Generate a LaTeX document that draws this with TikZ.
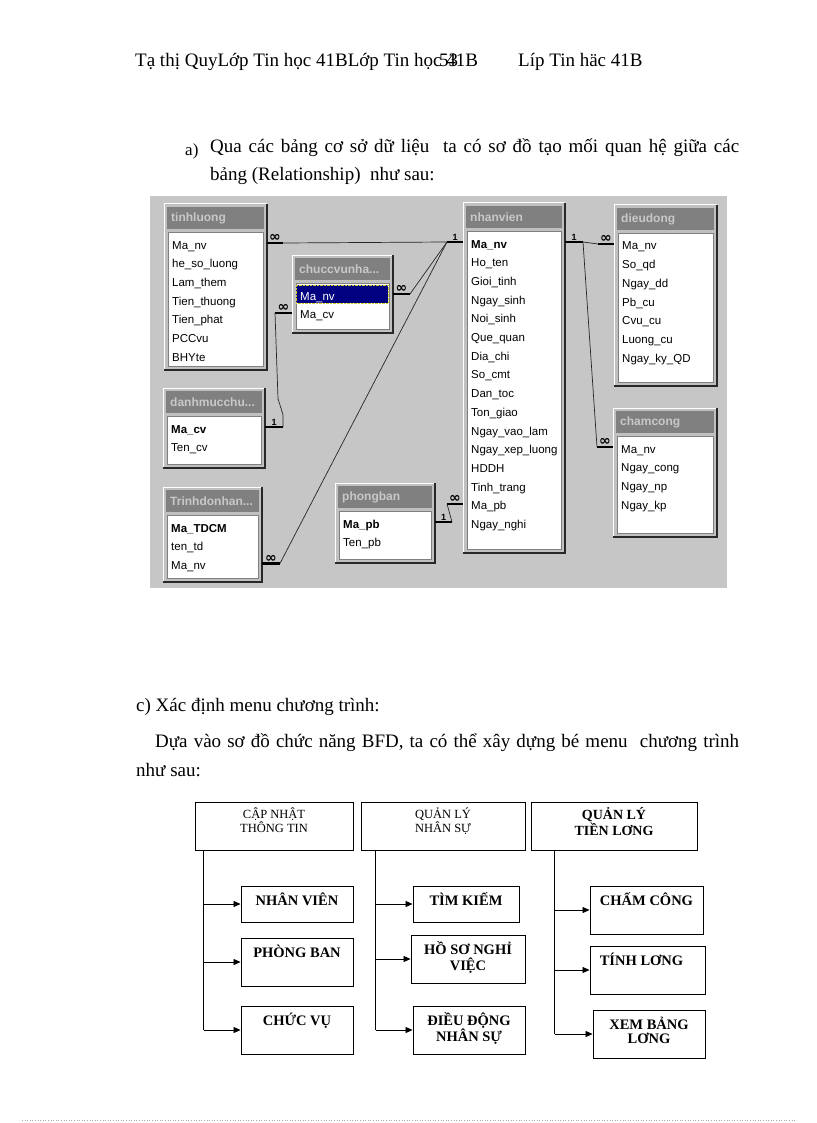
\documentclass[tikz,border=0pt]{standalone}
\usepackage{fontspec}
\setmainfont{Liberation Serif}
\newfontfamily\winfont{Liberation Sans}
\newfontfamily\symfont{DejaVu Sans}
\usetikzlibrary{arrows.meta}
\definecolor{winbg}{RGB}{198,198,198}
\definecolor{winface}{RGB}{192,192,192}
\definecolor{wintitle}{RGB}{128,128,128}
\definecolor{wintitletext}{RGB}{200,200,200}
\definecolor{winshadow}{RGB}{40,40,40}
\definecolor{winsel}{RGB}{0,0,128}
\definecolor{pagedots}{RGB}{170,170,170}

% one table window of the relationship view: name, x1, y1, x2, y2, title
\newcommand{\dbtable}[6]{%
  \node[tblframe, minimum width={(#4-#2)*1pt}, minimum height={(#5-#3)*1pt}] (#1) at (#2,#3) {};
  \draw[white, line width=1pt] (#1.south west) -- (#1.north west) -- (#1.north east);
  \draw[winshadow, line width=1.4pt] (#1.south west) -- (#1.south east) -- (#1.north east);
  \fill[wintitle] (#2+3,#3+3) rectangle (#4-3,#3+25);
  \node[tbltitle] (#1-title) at (#2+7,#3+14) {#6};
  \filldraw[fill=white, draw=wintitle] (#2+4,#3+28) rectangle (#4-4,#5-4);
}
% field list of a table: name, x1, y1, fields
\newcommand{\dbfields}[4]{%
  \foreach \f [count=\i] in {#4}
    \node[fld] (#1-\i) at ({#2+8},{#3+45+(\i-1)*18.7}) {\f};
}
\newcommand{\twolines}[2]{\begin{tabular}[t]{@{}c@{}}#1\\#2\end{tabular}}

\begin{document}
\begin{tikzpicture}[x=1pt, y=-1pt,
  bodytxt/.style={anchor=base west, inner sep=0pt, font=\fontsize{19}{24}\selectfont},
  tblframe/.style={fill=winface, anchor=north west, inner sep=0pt, outer sep=0pt},
  tbltitle/.style={anchor=west, inner sep=0pt, text=wintitletext, font=\winfont\bfseries\fontsize{12}{12}\selectfont},
  fld/.style={anchor=base west, inner sep=0pt, text height=13pt, text depth=1pt, font=\winfont\fontsize{11.5}{12}\selectfont},
  stub/.style={line width=2.4pt, line cap=butt},
  rel/.style={draw=black!85, line width=0.7pt},
  card/.style={inner sep=0.5pt, font=\winfont\bfseries\fontsize{9}{9}\selectfont},
  many/.style={inner sep=0pt, font=\symfont\bfseries\fontsize{14}{14}\selectfont},
  menubox/.style={draw=black, line width=0.9pt, inner sep=0pt, minimum height=48pt},
  menuhead/.style={anchor=base, inner sep=0pt, font=\fontsize{12.5}{12}\selectfont},
  menuheadb/.style={anchor=base, inner sep=0pt, font=\bfseries\fontsize{14}{11.5}\selectfont},
  menuitem/.style={anchor=base, inner sep=0pt, font=\bfseries\fontsize{14.5}{12}\selectfont},
  spine/.style={line width=0.8pt},
  arr/.style={-{Triangle[length=7pt,width=6pt]}, line width=0.8pt}
]
  \fill[white] (0,0) rectangle (816,1123);
  \useasboundingbox (0,0) rectangle (816,1123);

  % running header
  \node[bodytxt] (hdr-a) at (135,67) {Tạ thị QuyLớp Tin học 41BLớp Tin học 41B};
  \node[bodytxt] (hdr-pg) at (439,67) {53};
  \node[bodytxt] (hdr-b) at (518,67) {Líp Tin häc 41B};

  % a)
  \node[bodytxt, font=\fontsize{17}{17}\selectfont] (qa-label) at (185,156) {a)};
  \node[bodytxt] (qa-l1) at (210,153) {\makebox[529pt][s]{Qua các bảng cơ sở dữ liệu\ \ ta có sơ đồ tạo mối quan hệ giữa các}};
  \node[bodytxt] (qa-l2) at (210,181) {bảng (Relationship)\ \ như sau:};

  % relationship window
  \fill[winbg] (150,196) rectangle (727,588);

  \dbtable{tinhluong}{164}{204}{267}{370}{tinhluong}
  \dbfields{tinhluong}{164}{204}{Ma\_nv,he\_so\_luong,Lam\_them,Tien\_thuong,Tien\_phat,PCCvu,BHYte}

  \dbtable{chuccvu}{292}{255}{393}{333}{chuccvunha...}
  \fill[winsel] (296,285) rectangle (388,303);
  \draw[yellow!80!black, densely dotted] (296,285) rectangle (388,303);
  \dbfields{chuccvu}{292}{255}{{\color{white}Ma\_nv},Ma\_cv}

  \dbtable{nhanvien}{463}{203}{565}{553}{nhanvien}
  \dbfields{nhanvien}{463}{203}{{\bfseries Ma\_nv},Ho\_ten,Gioi\_tinh,Ngay\_sinh,Noi\_sinh,Que\_quan,Dia\_chi,So\_cmt,Dan\_toc,Ton\_giao,Ngay\_vao\_lam,Ngay\_xep\_luong,HDDH,Tinh\_trang,Ma\_pb,Ngay\_nghi}

  \dbtable{dieudong}{614}{205}{717}{386}{dieudong}
  \dbfields{dieudong}{614}{205}{Ma\_nv,So\_qd,Ngay\_dd,Pb\_cu,Cvu\_cu,Luong\_cu,Ngay\_ky\_QD}

  \dbtable{chamcong}{613}{408}{717}{537}{chamcong}
  \dbfields{chamcong}{613}{408}{Ma\_nv,Ngay\_cong,Ngay\_np,Ngay\_kp}

  \dbtable{danhmuc}{163}{388}{265}{468}{danhmucchu...}
  \dbfields{danhmuc}{163}{388}{{\bfseries Ma\_cv},Ten\_cv}

  \dbtable{trinhdo}{163}{487}{262}{582}{Trinhdonhan...}
  \dbfields{trinhdo}{163}{487}{{\bfseries Ma\_TDCM},ten\_td,Ma\_nv}

  \dbtable{phongban}{335}{483}{435}{563}{phongban}
  \dbfields{phongban}{335}{483}{{\bfseries Ma\_pb},Ten\_pb}

  % join stubs
  \draw[stub] (tinhluong.east |- tinhluong-1) -- ++(16,0) coordinate (tl-out) node[many, midway, above] (tl-m) {∞};
  \draw[stub] (chuccvu.east |- chuccvu-1) -- ++(17,0) coordinate (cvn-out) node[many, midway, above] (cvn-m) {∞};
  \draw[stub] (chuccvu.west |- chuccvu-2) -- ++(-17,0) coordinate (cvc-out) node[many, midway, above] (cvc-m) {∞};
  \draw[stub] (danhmuc.east |- danhmuc-1) -- ++(18,0) coordinate (dm-out) node[card, midway, above] (dm-1) {1};
  \draw[stub] (trinhdo.east |- trinhdo-3) -- ++(18,0) coordinate (td-out) node[many, midway, above] (td-m) {∞};
  \draw[stub] (nhanvien.west |- nhanvien-1) -- ++(-16,0) coordinate (nv-in) node[card, midway, above] (nv-1a) {1};
  \draw[stub] (nhanvien.east |- nhanvien-1) -- ++(18,0) coordinate (nv-out) node[card, midway, above] (nv-1b) {1};
  \draw[stub] (nhanvien.west |- nhanvien-15) -- ++(-16,0) coordinate (nv-pb) node[many, midway, above] (nv-m) {∞};
  \draw[stub] (dieudong.west |- dieudong-1) -- ++(-16,0) coordinate (dd-in) node[many, midway, above] (dd-m) {∞};
  \draw[stub] (chamcong.west |- chamcong-1) -- ++(-16,0) coordinate (cc-in) node[many, midway, above] (cc-m) {∞};
  \draw[stub] (phongban.east |- phongban-1) -- ++(17,0) coordinate (pb-out) node[card, midway, above] (pb-1) {1};

  % joins
  \draw[rel] (tl-out) -- (nv-in);
  \draw[rel] (cvn-out) -- (nv-in);
  \draw[rel] (td-out) -- (nv-in);
  \draw[rel] (cvc-out) -- ++(3,86) -- ++(5,16) -- (dm-out);
  \draw[rel] (nv-out) -- (dd-in);
  \draw[rel] (nv-out) -- (cc-in);
  \draw[rel] (nv-pb) -- (pb-out);

  % c)
  \node[bodytxt] (mc-head) at (136,711) {c) Xác định menu chương trình:};
  \node[bodytxt] (mc-l1) at (155,747) {\makebox[584pt][s]{Dựa vào sơ đồ chức năng BFD, ta có thể xây dựng bé menu\ \ chương trình}};
  \node[bodytxt] (mc-l2) at (136,776) {như sau:};

  % menu
  \node[menubox, minimum width=158pt] (upd) at (274,826) {};
  \node[menuhead] (upd-t) at ([yshift=-17pt]upd.north) {\twolines{CẬP NHẬT}{THÔNG TIN}};
  \node[menubox, minimum width=164pt] (hr) at (443,826) {};
  \node[menuhead] (hr-t) at ([yshift=-17pt]hr.north) {\twolines{QUẢN LÝ}{NHÂN SỰ}};
  \node[menubox, minimum width=166pt] (sal) at (614,826) {};
  \node[menuheadb] (sal-t) at ([yshift=-18pt]sal.north) {\twolines{QUẢN LÝ}{TIỀN LƠNG}};

  \node[menubox, minimum width=112pt, minimum height=36pt] (a1) at (297,904) {};
  \node[menuitem] (a1-t) at ([yshift=-19.5pt]a1.north) {NHÂN VIÊN};
  \node[menubox, minimum width=112pt] (a2) at (297,962) {};
  \node[menuitem] (a2-t) at ([yshift=-19.5pt]a2.north) {PHÒNG BAN};
  \node[menubox, minimum width=112pt] (a3) at (297,1030) {};
  \node[menuitem] (a3-t) at ([yshift=-19.5pt]a3.north) {CHỨC VỤ};

  \node[menubox, minimum width=106pt, minimum height=36pt] (b1) at (466,904) {};
  \node[menuitem] (b1-t) at ([yshift=-19.5pt]b1.north) {TÌM KIẾM};
  \node[menubox, minimum width=114pt] (b2) at (468,959) {};
  \node[menuitem] (b2-t) at ([yshift=-19.5pt]b2.north) {\twolines{HỒ SƠ NGHỈ}{VIỆC}};
  \node[menubox, minimum width=112pt] (b3) at (469,1030) {};
  \node[menuitem] (b3-t) at ([yshift=-19.5pt]b3.north) {\twolines{ĐIỀU ĐỘNG}{NHÂN SỰ}};

  \node[menubox, minimum width=113pt] (c1) at (646.5,910) {};
  \node[menuitem] (c1-t) at ([yshift=-19.5pt]c1.north) {CHẤM CÔNG};
  \node[menubox, minimum width=115pt] (c2) at (647.5,970) {};
  \node[menuitem] (c2-t) at ([xshift=-6pt, yshift=-19.5pt]c2.north) {TÍNH LƠNG};
  \node[menubox, minimum width=112pt] (c3) at (649,1034) {};
  \node[menuitem] (c3-t) at ([yshift=-19.5pt]c3.north) {\twolines{XEM BẢNG}{LƠNG}};

  \coordinate (upd-sp) at ([xshift=9pt]upd.south west);
  \coordinate (hr-sp) at ([xshift=15pt]hr.south west);
  \coordinate (sal-sp) at ([xshift=24pt]sal.south west);
  \draw[spine] (upd-sp) -- (upd-sp |- a3.west);
  \draw[spine] (hr-sp) -- (hr-sp |- b3.west);
  \draw[spine] (sal-sp) -- (sal-sp |- c3.west);
  \foreach \b in {a1,a2,a3} \draw[arr] (upd-sp |- \b.west) -- (\b.west);
  \foreach \b in {b1,b2,b3} \draw[arr] (hr-sp |- \b.west) -- (\b.west);
  \foreach \b in {c1,c2,c3} \draw[arr] (sal-sp |- \b.west) -- (\b.west);

  % page foot
  \draw[pagedots, dotted, line width=0.6pt] (22,1120) -- (795,1120);
\end{tikzpicture}
\end{document}
